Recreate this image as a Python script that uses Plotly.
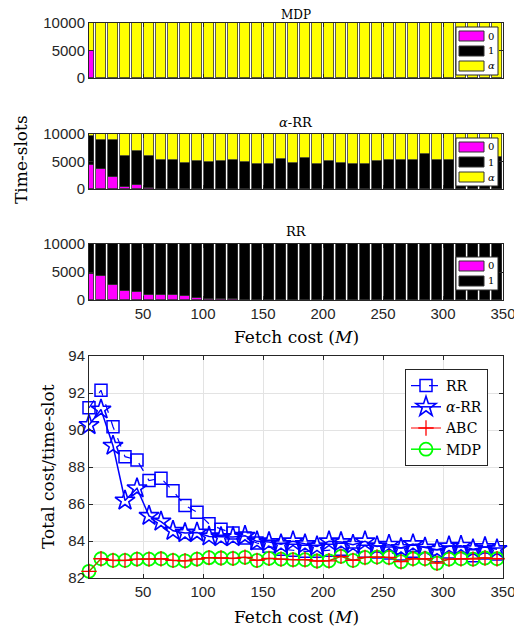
import plotly.graph_objects as go

# ---------------- data ----------------
fetch_cost = [5, 15, 25, 35, 45, 55, 65, 75, 85, 95, 105, 115, 125, 135, 145, 155, 165, 175,
              185, 195, 205, 215, 225, 235, 245, 255, 265, 275, 285, 295, 305, 315, 325, 335, 345]

# MDP panel: time-slots per action
mdp_0 = [5000] + [0] * 34
mdp_1 = [0] * 35
mdp_a = [5000] + [10000] * 34

# alpha-RR panel
arr_0 = [4360, 3700, 2180, 420, 730, 180, 0, 0, 0, 0, 0, 0, 0, 0, 0, 0, 0, 0,
         0, 0, 0, 0, 0, 0, 0, 0, 0, 0, 0, 0, 0, 0, 0, 0, 0]
arr_01 = [9640, 8900, 8900, 6000, 6970, 6000, 5330, 5330, 4730, 5150, 4970, 5150, 5270, 4970,
          4550, 4600, 5450, 4730, 5550, 4550, 5150, 4730, 4600, 4550, 5150, 5330, 5210, 5330,
          6360, 5330, 5330, 5400, 5250, 5500, 5760]
arr_1 = [b - a for a, b in zip(arr_0, arr_01)]
arr_a = [10000 - b for b in arr_01]

# RR panel
rr_0 = [4700, 4290, 2620, 1610, 1430, 890, 950, 830, 650, 360, 240, 180, 150, 80, 40, 10, 0, 0,
        0, 0, 0, 0, 0, 0, 0, 0, 0, 0, 0, 0, 0, 0, 0, 0, 0]
rr_1 = [10000 - a for a in rr_0]

# bottom panel: total cost per time-slot
cost_rr = [91.2, 92.15, 90.18, 88.56, 88.38, 87.27, 87.39, 86.71, 85.92, 85.56, 84.93, 84.64,
           84.43, 84.16, 83.89, 83.71, 83.56, 83.5, 83.44, 83.45, 83.5, 83.55, 83.3, 83.45,
           83.4, 83.35, 83.3, 83.45, 83.35, 83.2, 83.4, 83.35, 83.2, 83.35, 83.3]
cost_arr = [90.27, 91.11, 89.15, 86.19, 86.85, 85.36, 85.05, 84.55, 84.43, 84.46, 84.25, 84.21,
            84.21, 84.28, 83.98, 83.94, 83.83, 83.98, 83.83, 83.71, 83.98, 83.94, 83.8, 83.98,
            83.71, 83.8, 83.62, 83.83, 83.65, 83.53, 83.71, 83.74, 83.56, 83.67, 83.56]
cost_mdp = [82.36, 83.04, 82.95, 82.95, 83.02, 83.02, 83.04, 82.95, 82.93, 83.02, 83.1, 83.08,
            83.06, 83.12, 82.95, 83.06, 83.02, 82.99, 82.99, 82.92, 82.93, 83.17, 82.95, 83.11,
            83.13, 83.11, 82.88, 83.04, 83.04, 82.8, 83.02, 83.04, 83.02, 83.08, 83.04]
cost_abc = [82.36, 83.04, 82.95, 82.95, 83.02, 83.02, 83.04, 82.95, 82.93, 83.02, 83.1, 83.08,
            83.06, 83.12, 82.95, 83.06, 83.02, 82.99, 82.99, 82.92, 82.93, 83.17, 82.95, 83.11,
            83.13, 83.11, 82.88, 83.04, 83.04, 82.8, 83.02, 83.04, 83.02, 83.08, 83.04]

x_ticks = [50, 100, 150, 200, 250, 300, 350]
bar_yticks = [0, 5000, 10000]
bar_yticktext = ["0", "5000", "10000"]
cost_yticks = [82, 84, 86, 88, 90, 92, 94]

# ---------------- styles ----------------
MAG, BLK, YEL = "#FF00FF", "#000000", "#FFFF00"
SERIF = "DejaVu Serif"
SANS = "Liberation Sans"
AX = "#262626"
BAR_W = 8.6
EDGE = dict(color="#333333", width=0.8)

OFF = 8                      # default page margin around the plot div
W, H = 522 - OFF, 635 - OFF
def px_x(p): return (p - OFF) / W
def px_y(p): return 1 - (p - OFF) / H

fig = go.Figure()

def add_bars(vals_names, xa, ya):
    for vals, name, col in vals_names:
        fig.add_trace(go.Bar(x=fetch_cost, y=vals, name=name, marker=dict(color=col, line=EDGE),
                             width=BAR_W, xaxis=xa, yaxis=ya, showlegend=False))

mdp_series = [(mdp_0, "0", MAG), (mdp_1, "1", BLK), (mdp_a, "<i>α</i>", YEL)]
arr_series = [(arr_0, "0", MAG), (arr_1, "1", BLK), (arr_a, "<i>α</i>", YEL)]
rr_series = [(rr_0, "0", MAG), (rr_1, "1", BLK)]
add_bars(mdp_series, "x", "y")
add_bars(arr_series, "x2", "y2")
add_bars(rr_series, "x3", "y3")

BLUE, RED, GREEN = "#0000FF", "#FF0000", "#00FF00"
fig.add_trace(go.Scatter(x=fetch_cost, y=cost_rr, name="RR", mode="lines+markers",
                         line=dict(color=BLUE, width=1.2, dash="dash"), cliponaxis=False,
                         marker=dict(symbol="square-open", size=12, color=BLUE, line=dict(width=1.5)),
                         xaxis="x4", yaxis="y4", legendrank=1))
fig.add_trace(go.Scatter(x=fetch_cost, y=cost_arr, name="<i>α</i>-RR", mode="lines+markers",
                         line=dict(color=BLUE, width=1.5), cliponaxis=False,
                         marker=dict(symbol="star-open", size=15, color=BLUE, line=dict(width=1.6)),
                         xaxis="x4", yaxis="y4", legendrank=2))
fig.add_trace(go.Scatter(x=fetch_cost, y=cost_mdp, name="MDP", mode="lines+markers",
                         line=dict(color=GREEN, width=1.5), cliponaxis=False,
                         marker=dict(symbol="circle-open", size=13, color=GREEN, line=dict(width=1.8)),
                         xaxis="x4", yaxis="y4", legendrank=4))
fig.add_trace(go.Scatter(x=fetch_cost, y=cost_abc, name="ABC", mode="lines+markers",
                         line=dict(color=RED, width=1), cliponaxis=False,
                         marker=dict(symbol="cross-thin-open", size=11, color=RED, line=dict(width=1.3, color=RED)),
                         xaxis="x4", yaxis="y4", legendrank=3))

xdom = [px_x(89), px_x(503)]
common_x = dict(range=[5, 350], tickvals=x_ticks, ticks="inside", ticklen=4, tickcolor=AX,
                showline=True, linecolor=AX, linewidth=1, mirror="ticks", zeroline=False,
                showgrid=False, tickfont=dict(family=SANS, size=15, color=AX), domain=xdom,
                automargin=False)
common_ybar = dict(range=[0, 10000], tickvals=bar_yticks, ticktext=bar_yticktext, ticks="inside",
                   ticklen=4, tickcolor=AX, showline=True, linecolor=AX, linewidth=1, mirror="ticks",
                   zeroline=False, showgrid=False, tickfont=dict(family=SANS, size=15, color=AX),
                   automargin=False)

layout = dict(
    width=W, height=H, margin=dict(l=0, r=0, t=0, b=0, autoexpand=False),
    paper_bgcolor="white", plot_bgcolor="white",
    barmode="stack", bargap=0,
    xaxis=dict(common_x, anchor="y", showticklabels=False),
    yaxis=dict(common_ybar, anchor="x", domain=[px_y(78), px_y(23)]),
    xaxis2=dict(common_x, anchor="y2", showticklabels=False),
    yaxis2=dict(common_ybar, anchor="x2", domain=[px_y(189), px_y(134)]),
    xaxis3=dict(common_x, anchor="y3", showticklabels=True),
    yaxis3=dict(common_ybar, anchor="x3", domain=[px_y(300), px_y(244)]),
    xaxis4=dict(common_x, anchor="y4", showgrid=True, gridcolor="#e3e3e3"),
    yaxis4=dict(common_ybar, anchor="x4", domain=[px_y(578), px_y(356)], range=[82, 94],
                tickvals=cost_yticks, ticktext=[str(v) for v in cost_yticks],
                showgrid=True, gridcolor="#e3e3e3"),
    legend=dict(x=px_x(488), xanchor="right", y=px_y(369), yanchor="top", bgcolor="white",
                bordercolor=AX, borderwidth=1, font=dict(family=SERIF, size=14, color="black"),
                itemwidth=30, traceorder="normal", tracegroupgap=0),
)
fig.update_layout(**layout)

# compact legends of the bar panels (MATLAB-style boxes)
def bar_legend(top, series):
    n = len(series)
    fig.add_shape(type="rect", xref="paper", yref="paper", x0=px_x(456), x1=px_x(498),
                  y0=px_y(top + 3 + 15 * n), y1=px_y(top), fillcolor="white",
                  line=dict(color=AX, width=1), layer="above")
    for i, (_, name, col) in enumerate(series):
        t = top + 4 + 15 * i
        fig.add_shape(type="rect", xref="paper", yref="paper", x0=px_x(459), x1=px_x(484),
                      y0=px_y(t + 10), y1=px_y(t), fillcolor=col,
                      line=dict(color="#333333", width=1), layer="above")
        fig.add_annotation(text=name, x=px_x(486), y=px_y(t + 5), xref="paper", yref="paper",
                           showarrow=False, xanchor="left", yanchor="middle",
                           font=dict(family=SERIF, size=10, color="black"))

bar_legend(27, mdp_series)
bar_legend(138, arr_series)
bar_legend(257, rr_series)

def ann(text, x, y, size, angle=0):
    fig.add_annotation(text=text, x=px_x(x), y=px_y(y), xref="paper", yref="paper",
                       showarrow=False, textangle=angle, font=dict(family=SERIF, size=size, color="black"),
                       xanchor="center", yanchor="middle")

ann("MDP", 296, 15, 12)
ann("<i>α</i>-RR", 296, 122, 13)
ann("RR", 296, 232, 13)
ann("Fetch cost (<i>M</i>)", 296, 337, 17)
ann("Fetch cost (<i>M</i>)", 296, 617, 17)
ann("Time-slots", 21, 160, 17, -90)
ann("Total cost/time-slot", 48, 467, 17, -90)

fig.write_html("out.html")
